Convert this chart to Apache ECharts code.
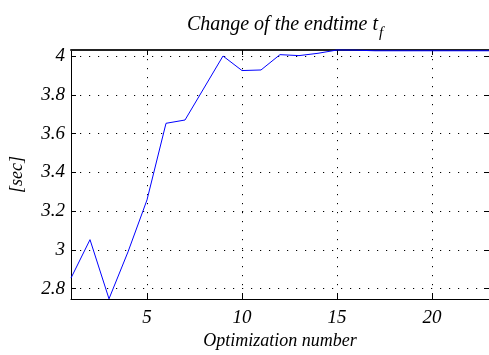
<!DOCTYPE html>
<html>
<head>
<meta charset="utf-8">
<script src="https://cdn.jsdelivr.net/npm/echarts@6/dist/echarts.min.js"></script>
<style>html,body{margin:0;padding:0;background:#fff;}#c{width:489px;height:355px;}</style>
</head>
<body>
<div id="c"></div>
<script>
const xValues = [1,2,3,4,5,6,7,8,9,10,11,12,13,14,15,16,17,18,19,20,21,22,23];
const endtime = [2.855,3.053,2.748,2.99,3.258,3.653,3.670,3.835,4.000,3.925,3.928,4.007,4.002,4.014,4.031,4.030,4.027,4.027,4.027,4.027,4.027,4.027,4.027];
const xTicks = [5,10,15,20];
const yTicks = [2.8,3.0,3.2,3.4,3.6,3.8,4.0];

const FONT = 'Liberation Serif';
const chart = echarts.init(document.getElementById('c'), null, {renderer:'canvas'});
const dotted = {show:true, lineStyle:{color:'#000', type:[1.2,7.8], width:1}};
const baseX = {
  type:'value', min:1, max:23,
  axisLine:{show:true, onZero:false, lineStyle:{color:'#000', width:1}},
  axisTick:{show:true, inside:true, length:5, customValues:xTicks, lineStyle:{color:'#000'}},
  splitLine:{show:false}
};
const baseY = {
  type:'value', min:2.747, max:4.031,
  axisLine:{show:true, onZero:false, lineStyle:{color:'#000', width:1}},
  axisTick:{show:true, inside:true, length:5, customValues:yTicks, lineStyle:{color:'#000'}},
  splitLine:{show:false}
};
chart.setOption({
  animation:false,
  title:{
    text:'{a|Change of the endtime t}{b|f}',
    left:280, top:4, textAlign:'center',
    textStyle:{fontWeight:'normal', rich:{
      a:{fontFamily:FONT, fontStyle:'italic', fontWeight:'normal', fontSize:20, color:'#000'},
      b:{fontFamily:FONT, fontStyle:'italic', fontWeight:'normal', fontSize:15, color:'#000', padding:[17,0,0,1]}
    }}
  },
  grid:{left:67, right:-2, top:50, bottom:55, containLabel:false},
  xAxis:[
    Object.assign({}, baseX, {
      position:'bottom',
      name:'Optimization number', nameLocation:'middle', nameGap:33,
      nameTextStyle:{fontFamily:FONT, fontStyle:'italic', fontSize:18, color:'#000'},
      axisLabel:{show:true, customValues:xTicks, margin:9, fontFamily:FONT, fontStyle:'italic', fontSize:19, color:'#000'},
      splitLine:dotted
    }),
    Object.assign({}, baseX, {position:'top', axisLabel:{show:false}, axisLine:{show:true, onZero:false, lineStyle:{color:'#222', width:2}}})
  ],
  yAxis:[
    Object.assign({}, baseY, {
      position:'left',
      name:'[sec]', nameLocation:'middle', nameGap:45, nameRotate:90,
      nameTextStyle:{fontFamily:FONT, fontStyle:'italic', fontSize:18, color:'#000'},
      axisLabel:{show:true, customValues:yTicks, margin:6, fontFamily:FONT, fontStyle:'italic', fontSize:19, color:'#000',
        formatter:function(v){return String(Math.round(v*10)/10);}},
      splitLine:dotted
    }),
    Object.assign({}, baseY, {position:'right', axisLabel:{show:false}})
  ],
  series:[{
    type:'line', xAxisIndex:0, yAxisIndex:0,
    data:xValues.map((x,i)=>[x,endtime[i]]),
    showSymbol:false, symbol:'none',
    lineStyle:{color:'#0000ff', width:1},
    clip:false
  }]
});
</script>
</body>
</html>
